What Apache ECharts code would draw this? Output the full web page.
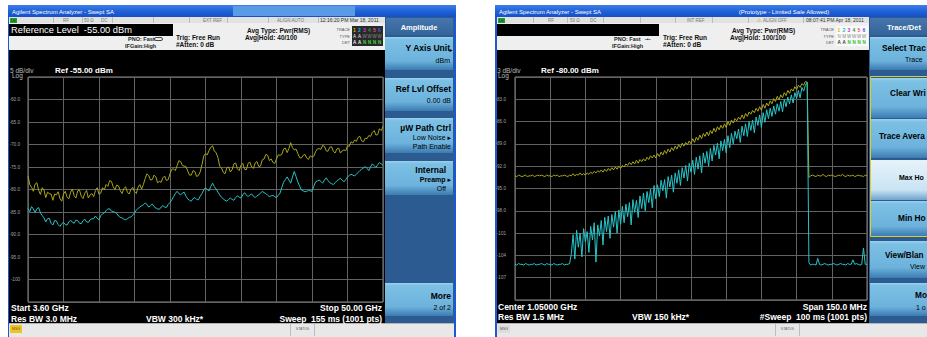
<!DOCTYPE html>
<html><head><meta charset="utf-8">
<script src="https://cdn.jsdelivr.net/npm/echarts@6/dist/echarts.min.js"></script>
<style>html,body{margin:0;padding:0;background:#fff}#c{width:927px;height:337px}</style>
</head><body><div id="c"></div>
<script>
// ================= DATA =================
// Left screen: Start 3.60 GHz, Stop 50.00 GHz, Ref -55 dBm, 5 dB/div (dBm values)
const leftStartGHz = 3.6;
const leftStopGHz = 50.0;
const leftYellow = [
 -77.0,-78.9,-79.5,-80.4,-78.8,-78.5,-80.2,-81.1,-79.6,-80.1,
 -81.8,-80.6,-80.9,-81.0,-82.4,-81.0,-81.2,-80.5,-82.0,-82.6,
 -81.0,-80.4,-81.7,-82.1,-80.6,-79.9,-81.4,-81.9,-80.3,-80.1,
 -81.5,-82.0,-80.8,-80.2,-81.9,-81.2,-80.9,-81.6,-80.2,-79.6,
 -81.1,-80.8,-79.6,-80.1,-78.9,-79.3,-78.0,-78.2,-79.4,-80.0,
 -79.0,-79.2,-80.3,-80.9,-79.8,-79.4,-80.6,-81.0,-80.0,-79.5,
 -80.5,-80.9,-79.5,-78.9,-79.9,-78.9,-77.6,-76.5,-76.9,-77.9,
 -77.8,-76.8,-77.2,-78.5,-78.2,-78.4,-77.4,-77.0,-78.0,-77.8,
 -76.5,-75.5,-75.4,-75.8,-74.7,-73.6,-73.8,-74.7,-74.8,-74.9,
 -75.9,-76.8,-76.8,-75.8,-76.0,-77.1,-76.9,-76.1,-74.5,-72.6,
 -72.0,-72.3,-71.3,-70.6,-70.3,-71.5,-71.8,-72.9,-74.8,-75.2,
 -76.2,-76.5,-75.2,-75.0,-76.1,-75.6,-74.3,-74.1,-75.4,-75.8,
 -74.6,-74.2,-75.5,-75.6,-74.2,-73.9,-75.0,-75.3,-74.1,-73.8,
 -74.9,-74.8,-73.4,-73.2,-72.2,-72.4,-73.6,-73.2,-74.0,-74.2,
 -73.2,-72.3,-72.4,-72.2,-71.0,-70.8,-71.8,-70.9,-69.6,-70.7,
 -71.2,-71.0,-72.0,-72.9,-73.0,-72.4,-72.2,-73.0,-73.3,-72.5,
 -72.8,-72.6,-71.6,-71.0,-70.9,-71.1,-70.2,-70.4,-71.4,-71.5,
 -70.6,-70.5,-71.5,-71.9,-71.0,-70.8,-71.9,-71.4,-71.2,-71.4,
 -70.3,-70.4,-69.4,-69.7,-69.0,-69.3,-68.4,-68.2,-69.2,-69.4,
 -68.6,-68.7,-68.0,-68.2,-67.3,-66.9,-67.9,-67.8,-66.5,-66.9,
 -66.0
];
const leftCyan = [
 -84.2,-84.9,-83.8,-84.3,-85.1,-84.3,-84.0,-85.2,-85.8,-86.3,
 -87.2,-86.5,-86.4,-87.5,-87.9,-86.9,-87.0,-87.8,-88.2,-87.6,
 -87.3,-87.8,-87.9,-87.2,-86.8,-87.3,-87.5,-86.8,-86.9,-87.5,
 -87.6,-86.9,-86.6,-87.2,-87.3,-86.7,-86.5,-86.5,-85.9,-86.4,
 -86.7,-85.8,-85.4,-85.2,-84.7,-84.3,-84.3,-84.8,-84.9,-85.1,
 -85.3,-85.9,-86.2,-86.3,-86.6,-86.7,-86.5,-86.2,-86.1,-85.7,
 -85.2,-84.6,-84.2,-83.9,-83.6,-83.4,-83.0,-83.3,-83.9,-83.6,
 -83.2,-83.8,-84.1,-84.3,-84.4,-83.9,-83.6,-83.9,-84.0,-83.3,
 -82.9,-82.3,-81.6,-80.9,-80.4,-80.9,-81.2,-80.8,-80.6,-81.5,
 -82.1,-82.4,-82.6,-82.0,-81.8,-82.2,-82.3,-81.5,-80.9,-80.1,
 -79.6,-80.0,-80.3,-79.3,-78.6,-79.4,-79.9,-80.6,-81.2,-81.7,
 -82.1,-82.4,-82.6,-82.2,-81.9,-82.2,-82.4,-81.8,-81.4,-81.7,
 -81.9,-81.2,-80.7,-81.2,-81.6,-81.2,-81.0,-81.5,-81.8,-81.4,
 -81.2,-80.8,-80.4,-80.7,-80.9,-81.3,-81.6,-81.4,-81.3,-81.6,
 -81.8,-81.3,-80.8,-79.5,-78.4,-77.8,-77.2,-77.9,-78.6,-77.2,
 -76.0,-77.1,-78.3,-79.2,-80.1,-80.3,-80.5,-80.4,-80.2,-80.3,
 -80.4,-79.3,-78.3,-78.1,-77.9,-78.2,-78.6,-77.9,-77.4,-78.0,
 -78.5,-78.7,-78.9,-78.5,-78.1,-77.8,-77.5,-77.9,-78.3,-77.8,
 -77.2,-76.9,-76.6,-76.8,-77.0,-76.6,-76.2,-75.8,-75.5,-75.2,
 -74.9,-75.3,-75.8,-75.0,-74.3,-74.7,-75.1,-74.5,-74.0,-74.3,
 -74.6
];
// Right screen: Center 1.05 GHz, Span 150 MHz (975..1125 MHz), Ref -80 dBm, 3 dB/div
const rightStartMHz = 975;
const rightStopMHz = 1125;
const rightYellow = [
 -93.3,-93.4,-93.2,-93.3,-93.4,-93.3,-93.2,-93.4,-93.3,-93.3,
 -93.2,-93.4,-93.3,-93.2,-93.3,-93.2,-93.3,-93.4,-93.2,-93.3,
 -93.3,-93.4,-93.2,-93.3,-93.2,-93.4,-93.3,-93.3,-93.2,-93.3,
 -93.4,-93.2,
 -93.3,-93.0,-93.3,-93.1,-93.2,-92.9,-93.2,-93.0,
 -93.2,-92.9,-93.1,-92.8,-93.0,-92.7,-92.9,-92.6,-92.8,-92.5,
 -92.8,-92.4,-92.7,-92.3,-92.6,-92.2,-92.5,-92.1,-92.4,-92.0,
 -92.3,-91.9,-92.1,-91.7,-91.9,-91.5,-91.8,-91.4,-91.7,-91.2,
 -91.6,-91.1,-91.4,-91.0,-91.3,-90.8,-91.1,-90.6,-90.9,-90.5,
 -90.9,-90.3,-90.7,-90.1,-90.5,-89.9,-90.3,-89.7,-90.1,-89.5,
 -89.9,-89.3,-89.7,-89.1,-89.5,-88.9,-89.3,-88.8,-89.1,-88.6,
 -89.0,-88.3,-88.8,-88.1,-88.5,-87.8,-88.3,-87.6,-88.0,-87.4,
 -87.9,-87.2,-87.6,-86.9,-87.4,-86.7,-87.1,-86.5,-86.9,-86.3,
 -86.8,-86.0,-86.5,-85.8,-86.2,-85.6,-85.9,-85.4,-85.7,-85.1,
 -85.6,-84.9,-85.3,-84.7,-85.0,-84.5,-84.8,-84.2,-84.6,-84.0,
 -84.5,-83.7,-84.2,-83.5,-83.9,-83.2,-83.6,-82.9,-83.3,-82.6,
 -83.1,-82.4,-82.8,-82.1,-82.5,-81.8,-82.2,-81.6,-81.9,-81.3,
 -81.7,-81.1,-81.4,-80.9,-81.1,-80.6,-80.7,
 -93.5,-93.3,-93.2,-93.3,-93.4,-93.2,-93.3,-93.3,-93.1,-93.3,
 -93.4,-93.2,-93.3,-93.2,-93.3,-93.4,-93.3,-93.2,-93.3,-93.1,
 -93.3,-93.4,-93.2,-93.3,-93.3,-93.2,-93.4,-93.3,-93.2,-93.3,
 -93.3,-93.4,-93.2,-93.3
];
const rightCyan = [
 -105.2,-105.3,-105.1,-105.2,-105.2,-105.3,-105.1,-105.2,-105.3,-105.2,
 -105.2,-105.1,-105.3,-105.2,-105.2,-105.1,-105.2,-105.3,-105.1,-105.2,
 -105.2,-105.3,-105.1,-105.2,-105.3,-105.2,-105.2,-105.1,-105.3,-105.2,
 -105.2,-105.1,
 -103.8,-101.2,-104.5,-100.6,-102.9,-101.0,-104.2,-100.4,-102.2,-100.8,
 -103.6,-100.1,-101.9,-99.6,-104.9,-99.9,-101.4,-99.3,-102.6,-98.9,
 -100.8,-98.7,-101.7,-98.5,-100.2,-98.1,-101.0,-97.9,-99.8,-97.4,
 -99.6,-97.1,-98.8,-96.9,-99.9,-96.5,-98.2,-96.6,-98.9,-96.0,
 -97.7,-95.6,-98.0,-95.4,-96.9,-95.1,-97.6,-94.6,-96.4,-94.5,
 -96.1,-93.9,-95.3,-93.8,-96.3,-93.4,-94.8,-93.2,-95.5,-92.9,
 -94.3,-92.5,-94.6,-92.2,-93.6,-91.9,-94.0,-91.6,-92.8,-91.2,
 -93.1,-90.8,-92.4,-90.6,-92.9,-90.2,-91.6,-90.0,-92.0,-89.6,
 -91.3,-89.2,-90.5,-88.9,-91.0,-88.6,-89.9,-88.4,-90.2,-87.9,
 -89.5,-87.6,-89.0,-87.3,-88.3,-87.0,-88.8,-86.6,-87.9,-86.3,
 -88.0,-86.0,-87.2,-85.8,-87.5,-85.4,-86.5,-85.1,-86.8,-84.8,
 -86.1,-84.4,-85.6,-84.2,-85.3,-83.9,-85.0,-83.6,-84.6,-83.3,
 -84.7,-83.0,-84.0,-82.7,-83.6,-82.4,-83.5,-82.1,-82.9,-81.8,
 -82.8,-81.4,-81.9,-81.1,-80.7,
 -105.0,-105.3,-105.2,-105.2,-105.3,-104.4,-105.2,-105.3,-105.2,-105.1,
 -105.2,-105.3,-105.2,-105.2,-105.1,-105.2,-105.3,-105.2,-105.1,-105.2,
 -105.2,-105.3,-105.1,-105.2,-105.2,-104.6,-105.2,-105.1,-105.2,-105.3,
 -105.2,-103.0,-105.2,-105.2
];
const leftYAxis = { min: -105, max: -55, step: 5 };
const rightYAxis = { min: -110, max: -80, step: 3 };

// ================= CHROME (UI) =================
const FONT = '"Liberation Sans", Arial, "DejaVu Sans", sans-serif';
const G = [];
function grad(stops){ return new echarts.graphic.LinearGradient(0,0,0,1, stops.map(c=>({offset:c[0], color:c[1]}))); }
function R(x,y,w,h,fill,z){ G.push({type:'rect', shape:{x:x,y:y,width:w,height:h}, style:{fill:fill}, z: z==null?-5:z, silent:true}); }
function SR(x,y,w,h,stroke,z,r){ G.push({type:'rect', shape:{x:x,y:y,width:w,height:h,r:r||0}, style:{fill:'none', stroke:stroke, lineWidth:1}, z: z==null?-3:z, silent:true}); }
function L(x1,y1,x2,y2,stroke){ G.push({type:'line', shape:{x1:x1,y1:y1,x2:x2,y2:y2}, style:{stroke:stroke, lineWidth:1}, z:-4, silent:true}); }
function T(x,y,text,o){ o=o||{}; G.push({type:'text', x:x, y:y, z:50, silent:true,
  style:{text:text, fill:o.c||'#000', font:(o.w||'normal')+' '+(o.s||6)+'px '+FONT,
         textAlign:o.a||'left', textVerticalAlign:'middle', align:o.a||'left', verticalAlign:'middle'}}); }
function btn(x,y,w,h,light){
  if (light) R(x,y,w,h, grad([[0,'#e6f3fa'],[0.75,'#c9e4f3'],[1,'#6fa3cb']]));
  else R(x,y,w,h, grad([[0,'#9ad2ee'],[0.08,'#7cc0e4'],[0.72,'#6cb2dc'],[1,'#3c7bb1']]));
}
const titleGrad = () => grad([[0,'#3d80ea'],[0.5,'#2262d8'],[1,'#1550c6']]);
const traceCols = ['#d6b400','#10bcc8','#c23cc2','#2ea02e','#e0508a','#3c5ee0'];

// ---- left window ----
R(8,5,448,332,'#1c58d0');
R(8,5,448,12,titleGrad());
R(233,6,122,10,'#5a9ae6');
T(12,11.5,'Agilent Spectrum Analyzer - Swept SA',{c:'#fff',s:6});
R(9,17,445,320,'#ececec');
R(9,17,376,6,'#e2e2e2');
[53,82,112,153,189,227,268,318].forEach(x=>L(x+0.5,17,x+0.5,23,'#bcbcbc'));
R(10,18,7,5,'#26a526'); T(13.5,20.5,'LXI',{s:3.5,c:'#033',a:'center'});
T(63,20.3,'RF',{s:4.5,c:'#777'}); T(84,20.3,'50 Ω',{s:4.5,c:'#777'}); T(101,20.3,'DC',{s:4.5,c:'#777'});
T(203,20.3,'EXT REF',{s:4.5,c:'#777'}); T(277,20.3,'ALIGN AUTO',{s:4.5,c:'#777'});
T(320,20.3,'12:16:20 PM Mar 18, 2011',{s:5,c:'#333'});
R(9,23,376,27,'#efefef');
R(9,24,164,12,'#000');
T(11,30.2,'Reference Level  -55.00 dBm',{c:'#fff',s:9.3});
T(128,39,'PNO: Fast',{w:'bold',s:5.5,c:'#222'});
T(125,45.5,'IFGain:High',{w:'bold',s:5.5,c:'#222'});
SR(154.5,37.5,8,3,'#444',-2,1.5);
T(176,37,'Trig: Free Run',{w:'bold',s:6.5,c:'#111'});
T(176,44.5,'#Atten: 0 dB',{w:'bold',s:6.5,c:'#111'});
T(247,30,'Avg Type: Pwr(RMS)',{w:'bold',s:6.5,c:'#111'});
T(245,37,'Avg|Hold: 40/100',{w:'bold',s:6.5,c:'#111'});
T(350,29.5,'TRACE',{s:4,a:'right',c:'#555'}); T(350,36,'TYPE',{s:4,a:'right',c:'#555'}); T(350,42.5,'DET',{s:4,a:'right',c:'#555'});
R(352,26,31,20,'#2a2a2a');
traceCols.forEach((c,i)=>T(354.5+i*5,29.5,String(i+1),{s:5,c:c,w:'bold',a:'center'}));
['A','A','W','W','W','W'].forEach((c,i)=>T(354.5+i*5,36,c,{s:4.5,c:i<2?'#eee':'#888',a:'center'}));
['A','A','N','N','N','N'].forEach((c,i)=>T(354.5+i*5,42.5,c,{s:4.5,c:i<2?'#eee':'#3fd83f',w:'bold',a:'center'}));
R(9,50,376,273,'#000');
T(10,70.5,'5 dB/div',{s:6.5,c:'#bbb'}); T(12,75.8,'Log',{s:6.5,c:'#bbb'});
T(55,70.5,'Ref -55.00 dBm',{w:'bold',s:8,c:'#fff'});
T(11,308.3,'Start 3.60 GHz',{w:'bold',s:8.5,c:'#fff'});
T(11,318.5,'Res BW 3.0 MHz',{w:'bold',s:8.5,c:'#fff'});
T(146,318.5,'VBW 300 kHz*',{w:'bold',s:8.5,c:'#fff'});
T(382,308.3,'Stop 50.00 GHz',{w:'bold',s:8.5,c:'#fff',a:'right'});
T(382,318.5,'Sweep  155 ms (1001 pts)',{w:'bold',s:8.5,c:'#fff',a:'right'});
R(9,323,445,14,'#e8e8e8'); L(9,323.5,454,323.5,'#b4b4b4');
R(10,325,12,8,'#f2c31e'); T(16,329,'MSG',{s:3.5,a:'center',c:'#555'});
L(290.5,324,290.5,336,'#bdbdbd'); L(314.5,324,314.5,336,'#bdbdbd');
T(302.5,329,'STATUS',{s:3.5,a:'center',c:'#666'});
// left softkeys
R(385,17,69,306,'#2c5b92');
R(386,18,67,17,grad([[0,'#4676ab'],[1,'#33649b']]));
T(419,27,'Amplitude',{w:'bold',s:7.5,c:'#fff',a:'center'});
btn(385,37,68,33); btn(385,78,68,33); btn(385,118,68,35); btn(385,161,68,34); btn(385,283,68,33);
T(450,48,'Y Axis Unit',{w:'bold',s:8.5,a:'right'}); T(452.5,50,'▸',{s:6,a:'right'});
T(450,60,'dBm',{s:7,a:'right'});
T(451,89,'Ref Lvl Offset',{w:'bold',s:8.5,a:'right'});
T(451,100,'0.00 dB',{s:7,a:'right'});
T(451,128,'µW Path Ctrl',{w:'bold',s:8.5,a:'right'});
T(451,137.5,'Low Noise ▸',{s:7,a:'right'});
T(451,146.5,'Path Enable',{s:7,a:'right'});
T(446,170,'Internal',{w:'bold',s:8.5,a:'right'});
T(451,179,'Preamp ▸',{w:'bold',s:7,a:'right'});
T(446,188,'Off',{s:7,a:'right'});
T(451,296,'More',{w:'bold',s:8.5,a:'right'});
T(451,307.5,'2 of 2',{s:7,a:'right'});

// ---- right window ----
R(495,5,440,332,'#1c58d0');
R(495,5,440,12,titleGrad());
T(499,11.5,'Agilent Spectrum Analyzer - Swept SA',{c:'#fff',s:6});
T(784,11.5,'(Prototype - Limited Sale Allowed)',{c:'#fff',s:6,a:'center'});
R(497,17,440,320,'#ececec');
R(497,17,372,6,'#e2e2e2');
[533,567,603,640,675,712,748,803].forEach(x=>L(x+0.5,17,x+0.5,23,'#bcbcbc'));
R(498,18,7,5,'#26a526'); T(501.5,20.5,'LXI',{s:3.5,c:'#033',a:'center'});
T(548,20.3,'RF',{s:4.5,c:'#777'}); T(570,20.3,'50 Ω',{s:4.5,c:'#777'}); T(590,20.3,'DC',{s:4.5,c:'#777'});
T(687,20.3,'INT REF',{s:4.5,c:'#777'});
T(757,20.3,'⚠',{s:5,c:'#d6a400'}); T(763,20.3,'ALIGN OFF',{s:4.5,c:'#777'});
T(806,20.3,'08:07:41 PM Apr 18, 2011',{s:5,c:'#333'});
R(497,23,372,27,'#efefef');
R(497,24,162,12,'#000');
T(614,39,'PNO: Fast',{w:'bold',s:5.5,c:'#222'});
T(645,39,'-•-',{w:'bold',s:5.5,c:'#222'});
T(612,45.5,'IFGain:High',{w:'bold',s:5.5,c:'#222'});
T(663,37,'Trig: Free Run',{w:'bold',s:6.5,c:'#111'});
T(663,44.5,'#Atten: 0 dB',{w:'bold',s:6.5,c:'#111'});
T(732,30,'Avg Type: Pwr(RMS)',{w:'bold',s:6.5,c:'#111'});
T(730,37,'Avg|Hold: 100/100',{w:'bold',s:6.5,c:'#111'});
T(834,29.5,'TRACE',{s:4,a:'right',c:'#555'}); T(834,36,'TYPE',{s:4,a:'right',c:'#555'}); T(834,42.5,'DET',{s:4,a:'right',c:'#555'});
R(836,26,32,20,'#fafafa');
traceCols.forEach((c,i)=>T(839+i*5,29.5,String(i+1),{s:5,c:c,w:'bold',a:'center'}));
['N','M','W','W','W','W'].forEach((c,i)=>T(839+i*5,36,c,{s:4.5,c:'#888',a:'center'}));
['A','A','N','N','N','N'].forEach((c,i)=>T(839+i*5,42.5,c,{s:4.5,c:i<2?'#333':'#2bbf2b',w:'bold',a:'center'}));
R(497,50,372,273,'#000');
T(497,70.5,'3 dB/div',{s:6.5,c:'#bbb'}); T(498,75.8,'Log',{s:6.5,c:'#bbb'});
T(541,70.5,'Ref -80.00 dBm',{w:'bold',s:8,c:'#fff'});
T(498,307,'Center 1.05000 GHz',{w:'bold',s:8.5,c:'#fff'});
T(498,317,'Res BW 1.5 MHz',{w:'bold',s:8.5,c:'#fff'});
T(632,317,'VBW 150 kHz*',{w:'bold',s:8.5,c:'#fff'});
T(867,307,'Span 150.0 MHz',{w:'bold',s:8.5,c:'#fff',a:'right'});
T(867,317,'#Sweep  100 ms (1001 pts)',{w:'bold',s:8.5,c:'#fff',a:'right'});
R(497,323,440,14,'#e8e8e8'); L(497,323.5,927,323.5,'#b4b4b4');
R(498,325,12,8,'#dcdcdc'); T(504,329,'MSG',{s:3.5,a:'center',c:'#555'});
L(775.5,324,775.5,336,'#bdbdbd'); L(799.5,324,799.5,336,'#bdbdbd');
T(787.5,329,'STATUS',{s:3.5,a:'center',c:'#666'});
// right softkeys (column runs past the photo's right edge; only the visible part of each label is shown)
R(869,17,70,306,'#2c5b92');
R(870,18,68,17,grad([[0,'#4676ab'],[1,'#33649b']]));
T(904,27,'Trace/Det',{w:'bold',s:7.5,c:'#fff',a:'center'});
btn(870,37,68,33); btn(870,78,68,40); btn(870,119,68,39); btn(870,160,68,40,true); btn(870,201,68,35);
btn(870,241,68,37); btn(870,283,68,33);
SR(870.5,76.5,70,160,'#dccf34',-2);
T(882,48,'Select Trac',{w:'bold',s:8.3});
T(905,59,'Trace',{s:7});
T(890,93.5,'Clear Wri',{w:'bold',s:8.2});
T(879,136,'Trace Avera',{w:'bold',s:8.2});
T(899,177,'Max Ho',{w:'bold',s:7});
T(898,218,'Min Ho',{w:'bold',s:8.3});
T(885,255,'View/Blan',{w:'bold',s:8.2});
T(910,266,'View',{s:7});
T(915,295,'Mo',{w:'bold',s:8.3});
T(916,307.5,'1 o',{s:7});

// ================= CHART =================
function yFmt(ax){ return v => (v === ax.min || v === ax.max) ? '' : (v > -100 ? v.toFixed(1) : String(Math.round(v))); }
function xy(arr, a, b){ const n = arr.length - 1; return arr.map((v,i)=>[a + (b - a) * i / n, v]); }
const splitStyle = {show:true, lineStyle:{color:'#626262', width:1}};
const hiddenAxis = {axisLine:{show:false}, axisTick:{show:false}};
const chart = echarts.init(document.getElementById('c'), null, {renderer:'svg'});
chart.setOption({
  animation:false,
  backgroundColor:'#ffffff',
  grid:[
    {left:28, top:77, width:355, height:225, show:true, borderColor:'#8c8c8c', borderWidth:1, backgroundColor:'transparent'},
    {left:515, top:77, width:352, height:223, show:true, borderColor:'#8c8c8c', borderWidth:1, backgroundColor:'transparent'}
  ],
  xAxis:[
    Object.assign({type:'value', gridIndex:0, min:leftStartGHz, max:leftStopGHz, interval:(leftStopGHz-leftStartGHz)/10, axisLabel:{show:false}, splitLine:splitStyle}, hiddenAxis),
    Object.assign({type:'value', gridIndex:1, min:rightStartMHz, max:rightStopMHz, interval:(rightStopMHz-rightStartMHz)/10, axisLabel:{show:false}, splitLine:splitStyle}, hiddenAxis)
  ],
  yAxis:[
    Object.assign({type:'value', gridIndex:0, min:leftYAxis.min, max:leftYAxis.max, interval:leftYAxis.step, splitLine:splitStyle,
      axisLabel:{show:true, margin:8, fontSize:4.6, color:'#a4a4a4', fontFamily:FONT, formatter:yFmt(leftYAxis)}}, hiddenAxis),
    Object.assign({type:'value', gridIndex:1, min:rightYAxis.min, max:rightYAxis.max, interval:rightYAxis.step, splitLine:splitStyle,
      axisLabel:{show:true, margin:9, fontSize:4.6, color:'#a4a4a4', fontFamily:FONT, formatter:yFmt(rightYAxis)}}, hiddenAxis)
  ],
  series:[
    {type:'line', xAxisIndex:0, yAxisIndex:0, data:xy(leftYellow,leftStartGHz,leftStopGHz), symbol:'none', lineStyle:{color:'#a9a41c', width:1}, itemStyle:{color:'#a9a41c'}, z:3},
    {type:'line', xAxisIndex:0, yAxisIndex:0, data:xy(leftCyan,leftStartGHz,leftStopGHz), symbol:'none', lineStyle:{color:'#27c3c6', width:1}, itemStyle:{color:'#27c3c6'}, z:4},
    {type:'line', xAxisIndex:1, yAxisIndex:1, data:xy(rightYellow,rightStartMHz,rightStopMHz), symbol:'none', lineStyle:{color:'#aaa51c', width:1}, itemStyle:{color:'#aaa51c'}, z:3},
    {type:'line', xAxisIndex:1, yAxisIndex:1, data:xy(rightCyan,rightStartMHz,rightStopMHz), symbol:'none', lineStyle:{color:'#27c6ca', width:1}, itemStyle:{color:'#27c6ca'}, z:4}
  ],
  graphic:{elements:G}
});
</script>
</body></html>
